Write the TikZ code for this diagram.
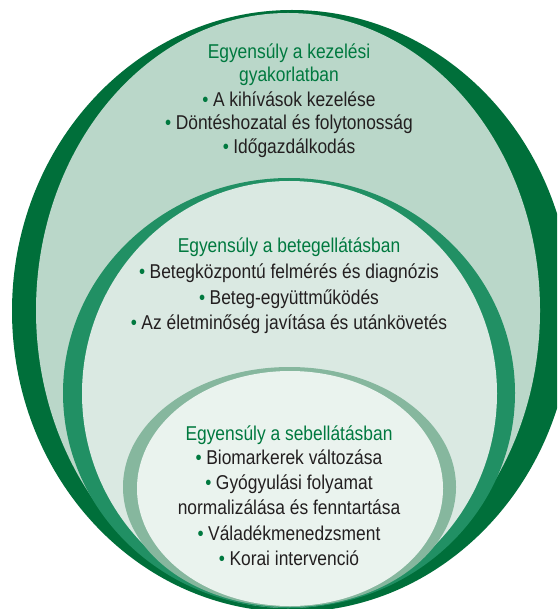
\documentclass[tikz,border=0pt]{standalone}
\usepackage{fontspec}
\setmainfont{Liberation Sans}[FakeStretch=0.87]
\definecolor{dOne}{HTML}{006F3A}
\definecolor{lOne}{HTML}{BAD7C9}
\definecolor{dTwo}{HTML}{219064}
\definecolor{lTwo}{HTML}{DAE9E2}
\definecolor{dThree}{HTML}{86B79E}
\definecolor{lThree}{HTML}{EAF3EE}
\definecolor{ttlgreen}{HTML}{00793F}
\definecolor{txtgray}{HTML}{231F20}
\newcommand{\bul}{{\color{ttlgreen}\textbullet}\kern4.5pt}
\tikzset{
  lbl/.style={inner sep=0pt, anchor=base, font=\fontsize{20}{22}\selectfont},
  ttl/.style={lbl, text=ttlgreen},
  itm/.style={lbl, text=txtgray}
}
\begin{document}
\begin{tikzpicture}[x=1pt,y=-1pt]
\useasboundingbox (0,0) rectangle (557,609);
\clip (0,0) rectangle (557,609);
% outer level
\fill[dOne] (292,311) ellipse [x radius=280pt, y radius=301pt];
\fill[lOne] (288,310.5) ellipse [x radius=252pt, y radius=297.5pt];
% middle level
\fill[dTwo] (289,393) ellipse [x radius=226pt, y radius=215pt];
\fill[lTwo] (289.5,393.5) ellipse [x radius=207.5pt, y radius=212.5pt];
% inner level
\fill[dThree] (289.5,487) ellipse [x radius=166.5pt, y radius=120pt];
\fill[lThree] (290,488.5) ellipse [x radius=153pt, y radius=117.5pt];
% texts outer
\node[ttl] (o1) at (289,59) {Egyensúly a kezelési};
\node[ttl] (o2) at (289,82) {gyakorlatban};
\node[itm] (o3) at (289,107) {\bul A kihívások kezelése};
\node[itm] (o4) at (289,130) {\bul Döntéshozatal és folytonosság};
\node[itm] (o5) at (289,154) {\bul Időgazdálkodás};
% texts middle
\node[ttl] (m1) at (289,252) {Egyensúly a betegellátásban};
\node[itm] (m2) at (289,278) {\bul Betegközpontú felmérés és diagnózis};
\node[itm] (m3) at (289,304) {\bul Beteg-együttműködés};
\node[itm] (m4) at (289,329) {\bul Az életminőség javítása és utánkövetés};
% texts inner
\node[ttl] (i1) at (289,440) {Egyensúly a sebellátásban};
\node[itm] (i2) at (289,464) {\bul Biomarkerek változása};
\node[itm] (i3) at (289,489) {\bul Gyógyulási folyamat};
\node[itm] (i4) at (289,514) {normalizálása és fenntartása};
\node[itm] (i5) at (289,540) {\bul Váladékmenedzsment};
\node[itm] (i6) at (289,565) {\bul Korai intervenció};
\end{tikzpicture}
\end{document}
